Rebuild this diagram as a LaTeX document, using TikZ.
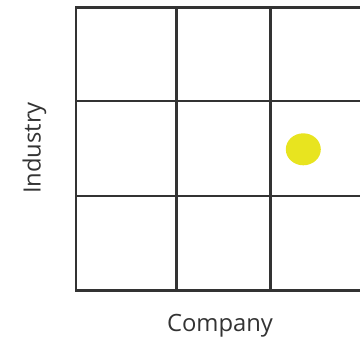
\documentclass[tikz,border=0pt]{standalone}
\usepackage{fontspec}
\setmainfont{Open Sans}
\usepackage{tikz}
\usepackage{xcolor}
\definecolor{gridgray}{HTML}{333333}
\definecolor{dotyellow}{HTML}{E8E41F}

\begin{document}
\begin{tikzpicture}[x=1pt,y=-1pt]
    \useasboundingbox (0,0) rectangle (360,341);

% grid
\draw[gridgray, line width=2.2pt] (76,7.5)--(360,7.5);
\draw[gridgray, line width=2.2pt] (76,101)--(360,101);
\draw[gridgray, line width=2.2pt] (76,196)--(360,196);
\draw[gridgray, line width=2.2pt] (76,290.5)--(360,290.5);
\draw[gridgray, line width=2.2pt] (76,6.4)--(76,291.6);
\draw[gridgray, line width=2.2pt] (176.5,6.4)--(176.5,291.6);
\draw[gridgray, line width=2.2pt] (270.5,6.4)--(270.5,291.6);

    \fill[dotyellow] (303.3,149.3) ellipse [x radius=17.5pt, y radius=16pt];
    \node[text=gridgray, font=\fontsize{23.8}{26}\selectfont] (company) at (220,325.5) {Company};
    \node[text=gridgray, font=\fontsize{23.8}{26}\selectfont, rotate=90] (industry) at (34.5,148) {Industry};
\end{tikzpicture}
\end{document}
